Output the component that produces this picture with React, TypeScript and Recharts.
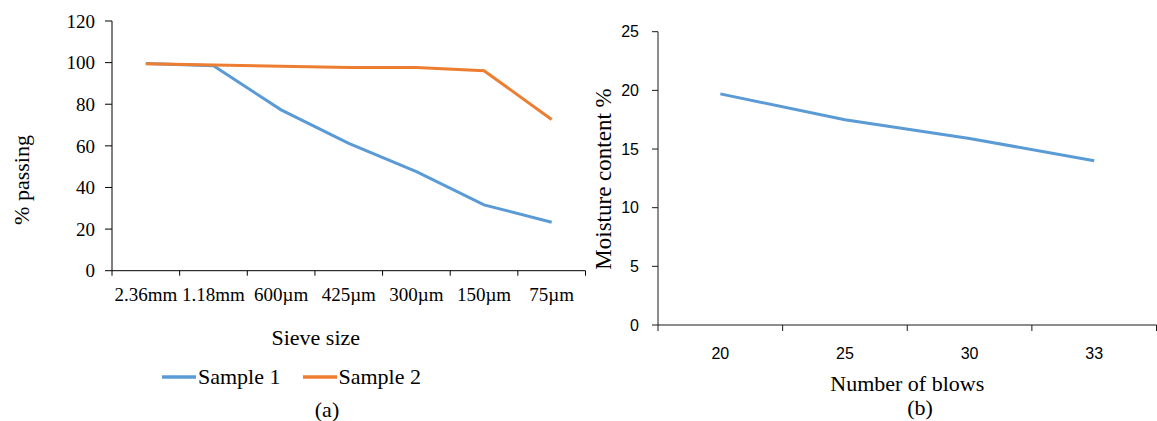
import React from 'react';
import { LineChart, Line, XAxis, YAxis, Legend, Label } from 'recharts';

const sieveSizes = ['2.36mm', '1.18mm', '600µm', '425µm', '300µm', '150µm', '75µm'];
const sample1 = [99.6, 98.5, 77.3, 61.2, 47.6, 31.6, 23.3];
const sample2 = [99.5, 98.9, 98.3, 97.7, 97.7, 96.1, 72.7];
const passingTicks = [0, 20, 40, 60, 80, 100, 120];

const blows = ['20', '25', '30', '33'];
const moisture = [19.7, 17.5, 15.9, 14.0];
const moistureTicks = [0, 5, 10, 15, 20, 25];

const gradingData = sieveSizes.map((s, i) => ({ sieve: s, s1: sample1[i], s2: sample2[i] }));
const blowsData = blows.map((b, i) => ({ blows: b, mc: moisture[i] }));

const SERIF = '"Liberation Serif", "Times New Roman", serif';
const SANS = '"Liberation Sans", Arial, sans-serif';

const makeBandTick = (font: string, size: number, labelDy: number, tickLen: number, color: string) => (props: any) => {
  const { x, y, payload, index, visibleTicksCount } = props;
  const off = payload && typeof payload.offset === 'number' ? payload.offset : 0;
  const isLast = index === visibleTicksCount - 1;
  return (
    <g>
      <line x1={x - off} x2={x - off} y1={y} y2={y + tickLen} stroke={color} strokeWidth={1} />
      {isLast && <line x1={x + off} x2={x + off} y1={y} y2={y + tickLen} stroke={color} strokeWidth={1} />}
      <text x={x} y={y + labelDy} textAnchor="middle" dominantBaseline="central" fontFamily={font} fontSize={size} fill="#000">
        {payload.value}
      </text>
    </g>
  );
};

const LeftXTick = makeBandTick(SERIF, 19, 24, 5, '#000');
const RightXTick = makeBandTick(SANS, 16, 28, 6, '#1a1a1a');

const renderLegend = (props: any) => {
  const { payload } = props;
  return (
    <div style={{ display: 'flex', alignItems: 'center', fontFamily: SERIF, fontSize: 22, lineHeight: '26px', color: '#000' }}>
      {(payload || []).map((e: any, i: number) => (
        <div key={i} style={{ display: 'flex', alignItems: 'center', marginRight: 22 }}>
          <svg width={34} height={6}>
            <line x1={0} y1={3} x2={34} y2={3} stroke={e.color} strokeWidth={3.5} />
          </svg>
          <span style={{ marginLeft: 2 }}>{e.value}</span>
        </div>
      ))}
    </div>
  );
};

export default function App() {
  return (
    <div style={{ position: 'absolute', left: 0, top: 0, width: 1157, height: 421, background: '#fff', overflow: 'hidden' }}>
      <div style={{ position: 'absolute', left: 0, top: 0 }}>
        <LineChart width={590} height={421} data={gradingData} margin={{ top: 21, right: 4.5, bottom: 120.3, left: 52 }}>
          <XAxis
            dataKey="sieve"
            scale="band"
            height={30}
            tickLine={false}
            tickSize={0}
            tickMargin={0}
            interval={0}
            tick={LeftXTick}
            axisLine={{ stroke: '#000', strokeWidth: 1 }}
          >
            <Label
              content={(p: any) => {
                const vb = p.viewBox || {};
                return (
                  <text x={vb.x + vb.width / 2 - 33} y={vb.y + 67} textAnchor="middle" dominantBaseline="central" fontFamily={SERIF} fontSize={22} fill="#000">
                    Sieve size
                  </text>
                );
              }}
            />
          </XAxis>
          <YAxis
            width={60}
            domain={[0, 120]}
            ticks={passingTicks}
            interval={0}
            tickSize={7}
            tickMargin={10}
            tick={{ fontFamily: SERIF, fontSize: 19, fill: '#000' }}
            axisLine={{ stroke: '#000', strokeWidth: 1 }}
            tickLine={{ stroke: '#000', strokeWidth: 1 }}
          >
            <Label
              content={(p: any) => {
                const vb = p.viewBox || {};
                const cx = vb.x - 31;
                const cy = 180;
                return (
                  <text x={cx} y={cy} transform={`rotate(-90 ${cx} ${cy})`} textAnchor="middle" dominantBaseline="central" fontFamily={SERIF} fontSize={22} fill="#000">
                    % passing
                  </text>
                );
              }}
            />
          </YAxis>
          <Line type="linear" dataKey="s1" name="Sample 1" stroke="#5B9BD5" strokeWidth={3} dot={false} isAnimationActive={false} />
          <Line type="linear" dataKey="s2" name="Sample 2" stroke="#ED7D31" strokeWidth={3} dot={false} isAnimationActive={false} />
          <Legend
            layout="horizontal"
            verticalAlign="middle"
            align="center"
            content={renderLegend}
            wrapperStyle={{ position: 'absolute', top: 364, left: 162, width: 320, height: 26 }}
          />
        </LineChart>
      </div>

      <div style={{ position: 'absolute', left: 585, top: 0 }}>
        <LineChart width={572} height={421} data={blowsData} margin={{ top: 31.7, right: 0.5, bottom: 66, left: 13 }}>
          <XAxis
            dataKey="blows"
            scale="band"
            height={30}
            tickLine={false}
            tickSize={0}
            tickMargin={0}
            interval={0}
            tick={RightXTick}
            axisLine={{ stroke: '#1a1a1a', strokeWidth: 1 }}
          >
            <Label
              content={(p: any) => {
                const vb = p.viewBox || {};
                return (
                  <text x={vb.x + vb.width / 2} y={vb.y + 58} textAnchor="middle" dominantBaseline="central" fontFamily={SERIF} fontSize={22} fill="#000">
                    Number of blows
                  </text>
                );
              }}
            />
          </XAxis>
          <YAxis
            width={60}
            domain={[0, 25]}
            ticks={moistureTicks}
            interval={0}
            tickSize={6}
            tickMargin={13}
            tick={{ fontFamily: SANS, fontSize: 16, fill: '#000' }}
            axisLine={{ stroke: '#1a1a1a', strokeWidth: 1 }}
            tickLine={{ stroke: '#1a1a1a', strokeWidth: 1 }}
          >
            <Label
              content={(p: any) => {
                const vb = p.viewBox || {};
                const cx = vb.x + 5;
                const cy = 179;
                return (
                  <text x={cx} y={cy} transform={`rotate(-90 ${cx} ${cy})`} textAnchor="middle" dominantBaseline="central" fontFamily={SERIF} fontSize={23} fill="#000">
                    Moisture content %
                  </text>
                );
              }}
            />
          </YAxis>
          <Line type="linear" dataKey="mc" name="Moisture content" stroke="#5B9BD5" strokeWidth={3} dot={false} isAnimationActive={false} />
        </LineChart>
      </div>

      <div style={{ position: 'absolute', left: 327, top: 410, transform: 'translate(-50%, -50%)', fontFamily: SERIF, fontSize: 22, lineHeight: '26px', color: '#000' }}>
        (a)
      </div>
      <div style={{ position: 'absolute', left: 920, top: 408, transform: 'translate(-50%, -50%)', fontFamily: SERIF, fontSize: 22, lineHeight: '26px', color: '#000' }}>
        (b)
      </div>
    </div>
  );
}
